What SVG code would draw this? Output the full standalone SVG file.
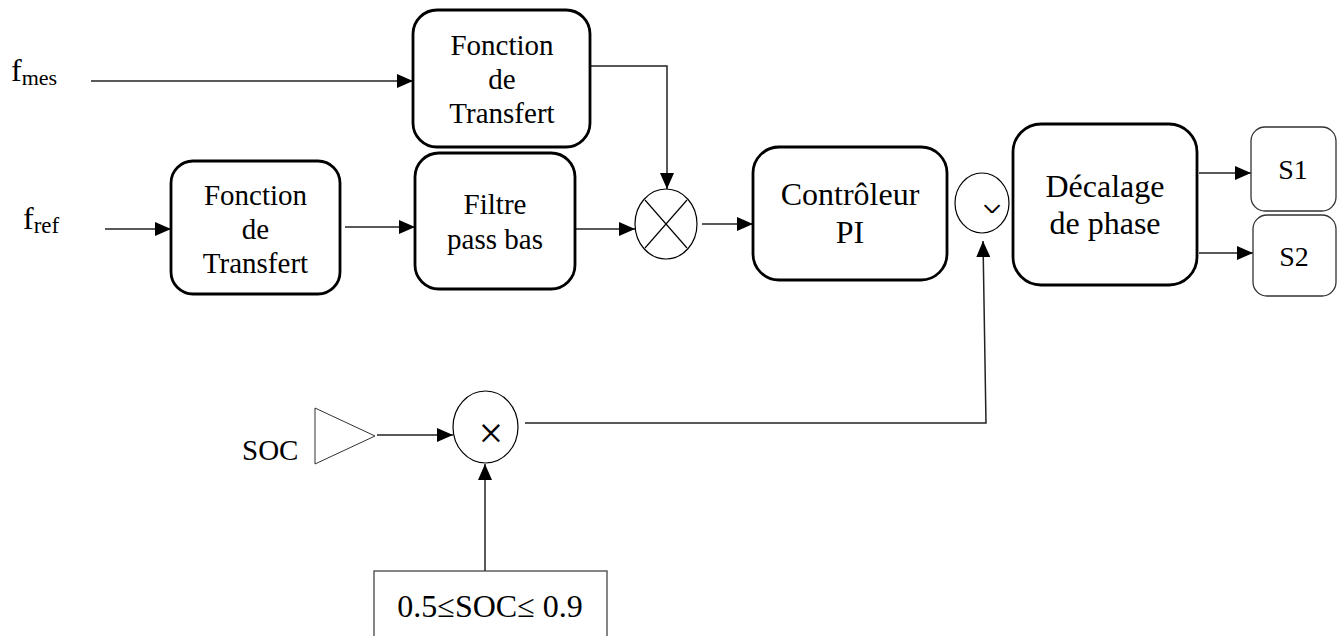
<svg xmlns="http://www.w3.org/2000/svg" width="1342" height="636" viewBox="0 0 1342 636">
<style>
.box{fill:#fff;stroke:#000;stroke-width:2.8;}
.sbox{fill:#fff;stroke:#333;stroke-width:1.3;}
.thin{fill:none;stroke:#000;stroke-width:1.2;}
.arr{fill:none;stroke:#222;stroke-width:1.5;marker-end:url(#ah);}
.t29{font-size:29px;text-anchor:middle;}
.t32{font-size:32px;text-anchor:middle;}
.t28{font-size:28px;text-anchor:middle;}
</style>
<defs>
<marker id="ah" markerUnits="userSpaceOnUse" markerWidth="16" markerHeight="14" refX="16" refY="7" orient="auto">
<path d="M0,0 L16,7 L0,14 z" fill="#000"/>
</marker>
<clipPath id="cmark"><rect x="980" y="196" width="25" height="17"/></clipPath>
</defs>
<rect width="1342" height="636" fill="#fff"/>

<g id="connectors">
<line class="arr" x1="91" y1="81" x2="413" y2="81"/>
<line class="arr" x1="105" y1="229" x2="171" y2="229"/>
<line class="arr" x1="345" y1="227" x2="415" y2="227"/>
<polyline class="arr" points="590,66 667,66 667,189"/>
<line class="arr" x1="575" y1="229" x2="635" y2="229"/>
<line class="arr" x1="702" y1="224" x2="753" y2="224"/>
<polyline class="arr" points="525,423 986,423 983,241"/>
<line class="arr" x1="1199" y1="173" x2="1251" y2="173"/>
<line class="arr" x1="1199" y1="253" x2="1253" y2="253"/>
<line class="arr" x1="377" y1="435" x2="453" y2="435"/>
<line class="arr" x1="485" y1="571" x2="485" y2="464"/>
</g>

<g font-family="'Liberation Serif', 'Times New Roman', serif" fill="#000">
<g id="fmes"><text x="11" y="81" font-size="32">f<tspan font-size="22" dy="4">mes</tspan></text></g>
<g id="fref"><text x="23" y="229" font-size="32">f<tspan font-size="23" dy="4">ref</tspan></text></g>

<g id="tf1">
<rect class="box" x="171" y="161" width="169" height="133" rx="22"/>
<text class="t29" x="255.5" y="205">Fonction</text>
<text class="t29" x="255.5" y="239">de</text>
<text class="t29" x="255.5" y="273">Transfert</text>
</g>

<g id="tf2">
<rect class="box" x="413" y="10" width="177" height="137" rx="24"/>
<text class="t29" x="502" y="55">Fonction</text>
<text class="t29" x="502" y="89">de</text>
<text class="t29" x="502" y="123">Transfert</text>
</g>

<g id="filtre">
<rect class="box" x="415" y="153" width="160" height="136" rx="24"/>
<text class="t29" x="495" y="214">Filtre</text>
<text class="t29" x="495" y="249">pass bas</text>
</g>

<g id="comparateur">
<ellipse class="thin" cx="666" cy="224" rx="31" ry="35"/>
<line class="thin" x1="645" y1="200" x2="687" y2="248"/>
<line class="thin" x1="687" y1="200" x2="645" y2="248"/>
</g>

<g id="pi">
<rect class="box" x="753" y="147" width="194" height="133" rx="26"/>
<text class="t32" x="850" y="205">Contrôleur</text>
<text class="t32" x="850" y="243">PI</text>
</g>

<g id="mult2">
<ellipse class="thin" cx="982" cy="203" rx="27" ry="30"/>
<text x="992" y="226" font-size="40" text-anchor="middle" clip-path="url(#cmark)">×</text>
</g>

<g id="decalage">
<rect class="box" x="1013" y="124" width="184" height="161" rx="28"/>
<text class="t32" x="1105" y="197">Décalage</text>
<text class="t32" x="1105" y="234">de phase</text>
</g>

<g id="s1">
<rect class="sbox" x="1251" y="127" width="85" height="84" rx="14"/>
<text class="t28" x="1293" y="179">S1</text>
</g>
<g id="s2">
<rect class="sbox" x="1253" y="215" width="83" height="81" rx="14"/>
<text class="t28" x="1294" y="266">S2</text>
</g>

<g id="soc">
<text x="242" y="460" font-size="29">SOC</text>
<polygon points="315,408 315,464 375,436" fill="#fff" stroke="#333" stroke-width="1"/>
</g>

<g id="mult1">
<ellipse class="thin" cx="485.5" cy="427" rx="32.5" ry="36"/>
<text x="491" y="448" font-size="44" text-anchor="middle">×</text>
</g>

<g id="limite">
<rect x="374" y="571" width="233" height="80" fill="#fff" stroke="#444" stroke-width="1.3"/>
<text x="490" y="617" font-size="32" text-anchor="middle">0.5≤SOC≤ 0.9</text>
</g>
</g>
</svg>
